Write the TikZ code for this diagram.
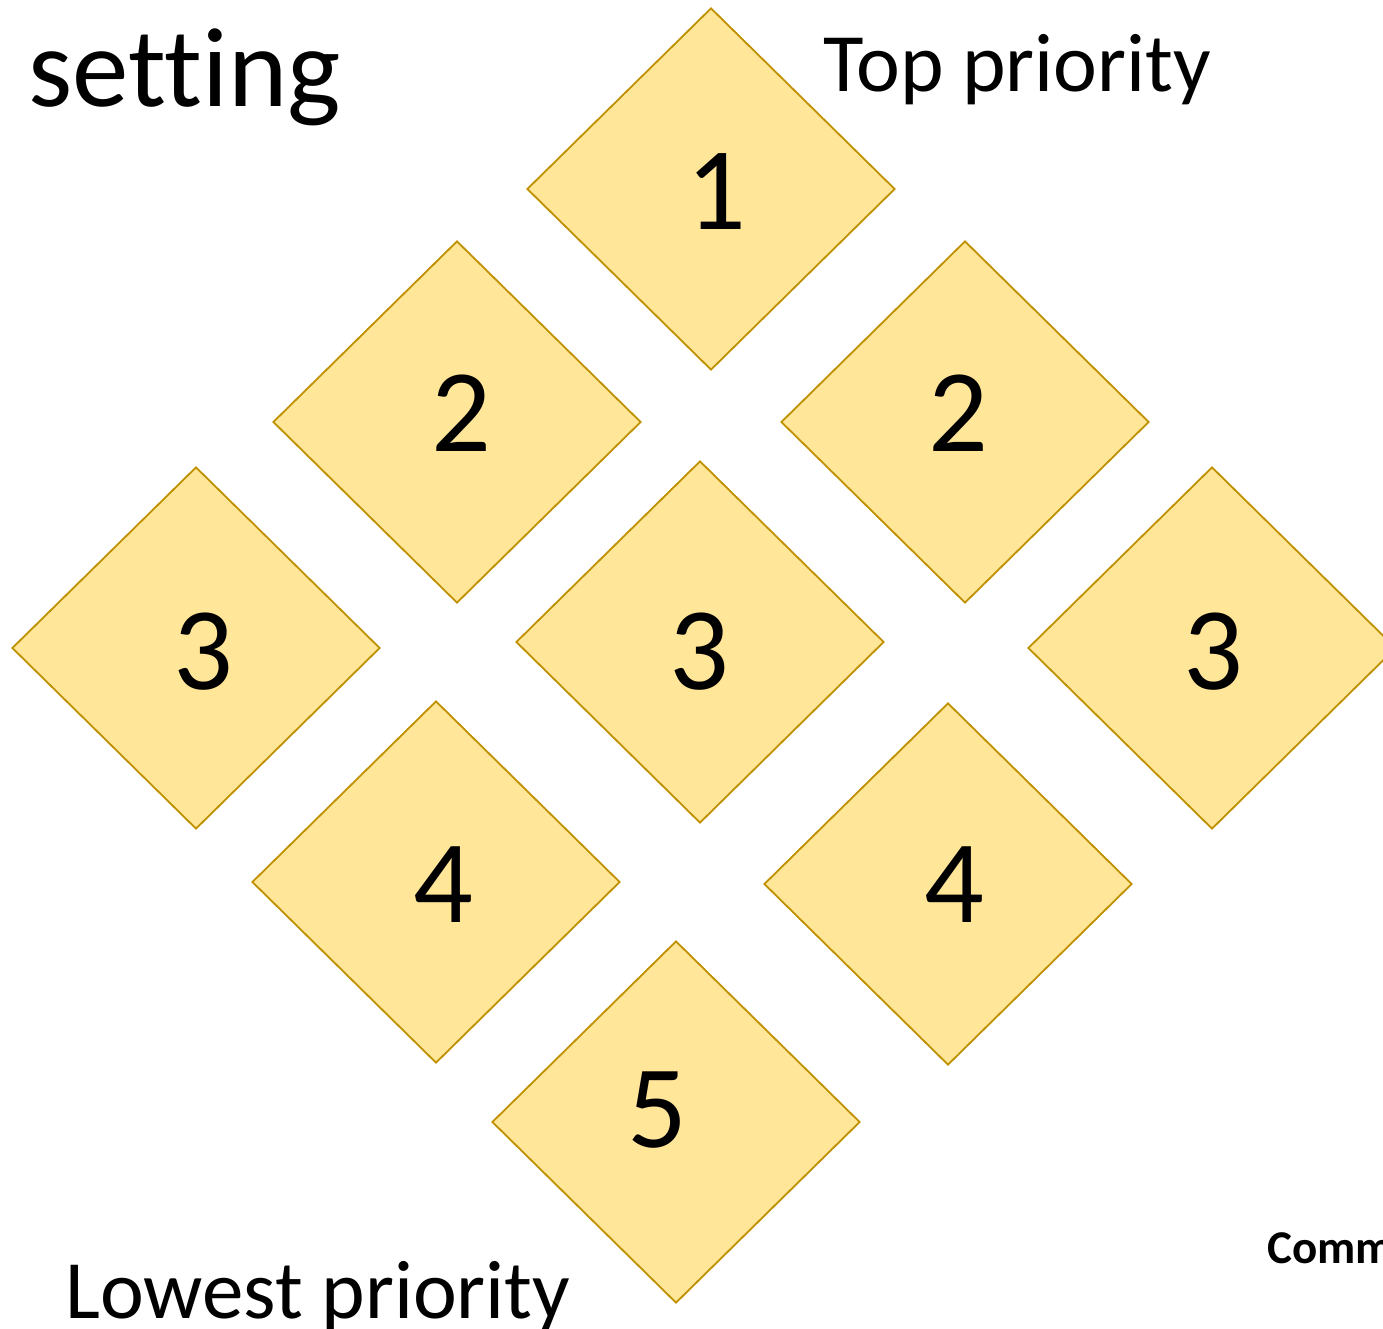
\documentclass[tikz,border=0pt]{standalone}
\usepackage{fontspec}
\setmainfont{Carlito}[Ligatures={NoCommon}]
\usetikzlibrary{shapes.geometric}
\definecolor{dfill}{HTML}{FFE699}
\definecolor{dline}{HTML}{BF9000}
\tikzset{
  tile/.style={diamond, draw=dline, fill=dfill, line width=1.8pt, inner sep=0pt,
    minimum width=368pt, minimum height=362pt},
  digit/.style={inner sep=0pt, font=\fontsize{118}{120}\selectfont},
  bigtext/.style={inner sep=0pt, anchor=base west, font=\fontsize{83}{90}\selectfont},
}
\begin{document}
\begin{tikzpicture}[x=1pt,y=-1pt]
\useasboundingbox (0,0) rectangle (1383,1329);
\node[tile] (d1) at (711,189) {};
\node[tile] (d2l) at (457,422) {};
\node[tile] (d2r) at (965,422) {};
\node[tile] (d3l) at (196,648) {};
\node[tile] (d3m) at (700,642) {};
\node[tile] (d3r) at (1212,648) {};
\node[tile] (d4l) at (436,882) {};
\node[tile] (d4r) at (948,884) {};
\node[tile] (d5) at (676,1122) {};
\node[digit] (n1) at (716,192) {1};
\node[digit] (n2l) at (461,413) {2};
\node[digit] (n2r) at (958,413) {2};
\node[digit] (n3l) at (203,652) {3};
\node[digit] (n3m) at (699,652) {3};
\node[digit] (n3r) at (1213,652) {3};
\node[digit] (n4l) at (443,885) {4};
\node[digit] (n4r) at (954,885) {4};
\node[digit] (n5) at (657,1110) {5};
\node[bigtext, font=\fontsize{113}{120}\selectfont] (t0) at (28,107) {setting};
\node[bigtext] (t1) at (823,92) {Top priority};
\node[bigtext] (t2) at (65,1318) {Lowest priority};
\node[bigtext, font=\bfseries\fontsize{47}{50}\selectfont] (t3) at (1267,1263) {Comm};
\end{tikzpicture}
\end{document}
